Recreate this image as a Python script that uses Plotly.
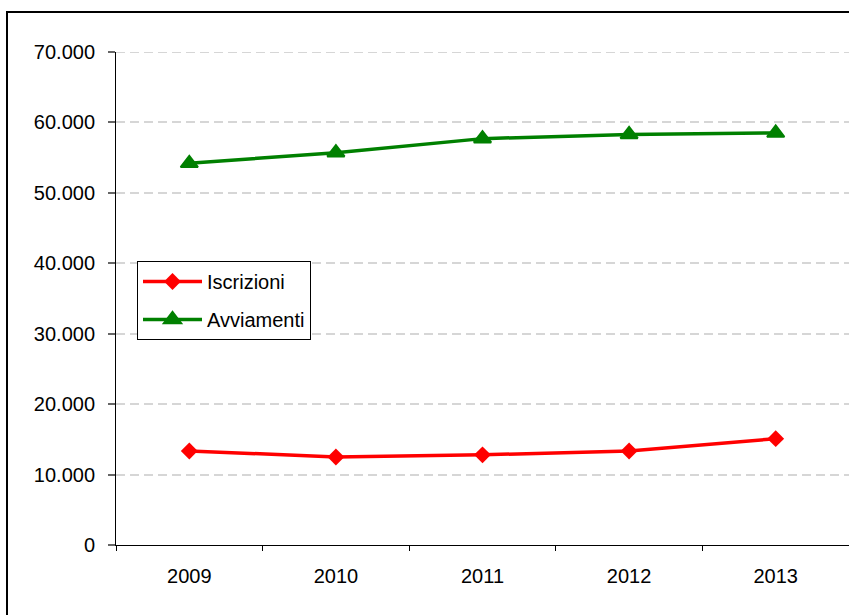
import plotly.graph_objects as go

years = ["2009", "2010", "2011", "2012", "2013"]
iscrizioni = [13350, 12500, 12800, 13350, 15100]
avviamenti = [54200, 55700, 57700, 58300, 58500]
y_ticks = [0, 10000, 20000, 30000, 40000, 50000, 60000, 70000]
y_labels = ["0", "10.000", "20.000", "30.000", "40.000", "50.000", "60.000", "70.000"]

W, H = 849, 615
L, R, T, B = 116, 0, 52, 70
pw, ph = W - L - R, H - T - B
y_max = 70000
grid_color = "#d6d6d6"

fig = go.Figure()
fig.add_trace(go.Scatter(
    x=years, y=iscrizioni, name="Iscrizioni", mode="lines+markers",
    legendgroup="a",
    line=dict(color="#ff0000", width=3.5),
    marker=dict(symbol="diamond", size=13, color="#ff0000"),
))
fig.add_trace(go.Scatter(
    x=years, y=avviamenti, name="Avviamenti", mode="lines+markers",
    legendgroup="b",
    line=dict(color="#008000", width=3.5),
    marker=dict(symbol="triangle-up", size=15, color="#008000",
                line=dict(color="#008000", width=2)),
))

# outer frame (left and top edges visible, runs off the page at right/bottom)
x0 = (7 - L) / pw
y1 = 1 + (T - 12) / ph
fig.add_shape(type="rect", xref="paper", yref="paper",
              x0=x0, x1=1.2, y0=-0.3, y1=y1,
              line=dict(color="black", width=2), layer="below")

# gridline on the top edge of the value range
fig.add_shape(type="line", xref="paper", yref="y",
              x0=0, x1=1, y0=y_max, y1=y_max,
              line=dict(color=grid_color, width=2, dash="9px,5px"), layer="below")

fig.update_layout(
    width=W, height=H,
    margin=dict(l=L, r=R, t=T, b=B),
    paper_bgcolor="white", plot_bgcolor="white",
    font=dict(family="Liberation Sans, Arial, sans-serif", size=20, color="black"),
    showlegend=True,
    legend=dict(
        x=(137 - L) / pw, y=(H - B - 261) / ph, xanchor="left", yanchor="top",
        bordercolor="black", borderwidth=1, bgcolor="white",
        font=dict(size=20), itemwidth=59, tracegroupgap=9,
    ),
)
fig.update_xaxes(
    type="category", range=[-0.5, 4.5], tickson="boundaries",
    ticks="outside", ticklen=5, tickcolor="black",
    showline=True, linecolor="black", linewidth=1,
    showgrid=False, tickfont=dict(size=20), ticklabelstandoff=13,
)
fig.update_yaxes(
    range=[0, y_max], tickvals=y_ticks, ticktext=y_labels,
    ticks="outside", ticklen=7, tickwidth=2, tickcolor="#666666",
    showline=True, linecolor="black", linewidth=1,
    showgrid=True, gridcolor=grid_color, griddash="9px,5px", gridwidth=2,
    zeroline=False, tickfont=dict(size=20), ticklabelstandoff=9,
)

fig.write_html("out.html")
